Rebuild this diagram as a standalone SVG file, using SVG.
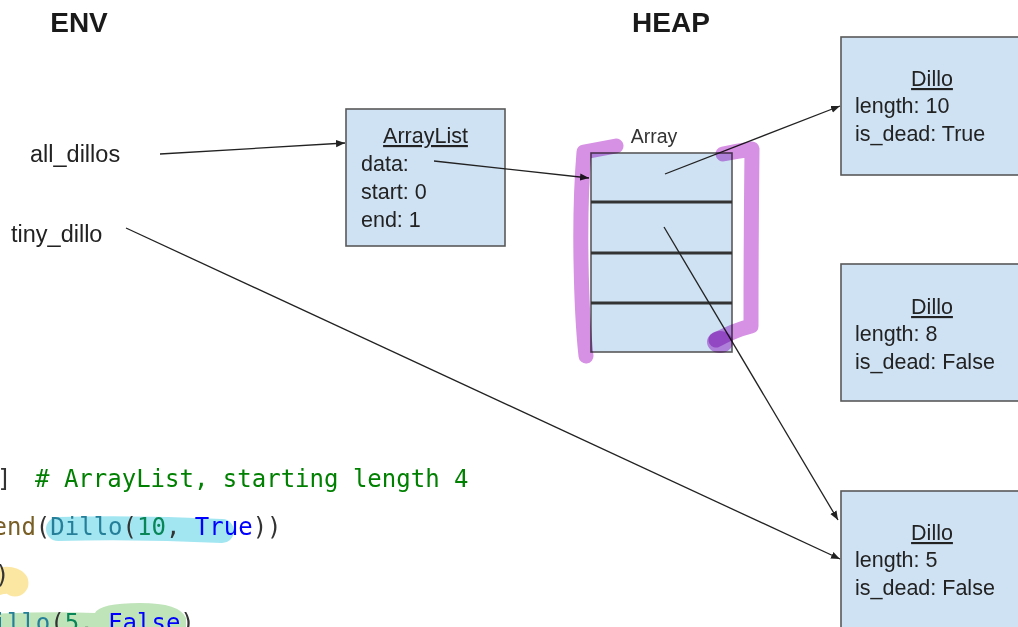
<svg xmlns="http://www.w3.org/2000/svg" width="1018" height="627" viewBox="0 0 1018 627">
  <style>
    .title { font-family: "Liberation Sans", Arial, sans-serif; font-weight: bold; font-size: 28px; fill: #1a1a1a; }
    .var { font-family: "Liberation Sans", Arial, sans-serif; font-size: 23.5px; fill: #222; }
    .box { fill: #cfe2f3; stroke: #595959; stroke-width: 1.6; }
    .lbl { font-family: "Liberation Sans", Arial, sans-serif; font-size: 21.5px; fill: #222; }
    .head { text-decoration: underline; }
    .divider { stroke: #333; stroke-width: 3; }
    .edge { stroke: #222; stroke-width: 1.3; fill: none; marker-end: url(#tip); }
    .marker { fill: none; stroke: #d690e4; stroke-width: 15; stroke-linecap: round; stroke-linejoin: round; mix-blend-mode: multiply; }
    .code { font-family: "DejaVu Sans Mono", "Liberation Mono", monospace; font-size: 24px; fill: #333; white-space: pre; }
    .cm { fill: #008000; }
    .fn { fill: #795e26; }
    .cls { fill: #267f99; }
    .num { fill: #098658; }
    .kw { fill: #0000ff; }
  </style>
  <defs>
    <marker id="tip" viewBox="0 0 10 10" refX="10" refY="5" markerWidth="9" markerHeight="9" markerUnits="userSpaceOnUse" orient="auto">
      <path d="M0,1 L10,5 L0,9 z" fill="#222"/>
    </marker>
  </defs>

  <rect width="1018" height="627" fill="#ffffff"/>

  <!-- section titles -->
  <text class="title" x="79" y="32" text-anchor="middle">ENV</text>
  <text class="title" x="671" y="32" text-anchor="middle">HEAP</text>

  <!-- environment variables -->
  <g id="var-all_dillos">
    <text class="var" x="30" y="162">all_dillos</text>
  </g>
  <g id="var-tiny_dillo">
    <text class="var" x="11" y="242">tiny_dillo</text>
  </g>

  <!-- ArrayList object -->
  <g id="arraylist">
    <rect class="box" x="346" y="109" width="159" height="137"/>
    <text class="lbl head" x="425.5" y="143" text-anchor="middle">ArrayList</text>
    <text class="lbl" x="361" y="171">data:</text>
    <text class="lbl" x="361" y="199">start: 0</text>
    <text class="lbl" x="361" y="227">end: 1</text>
  </g>

  <!-- backing array with four slots -->
  <g id="array">
    <text class="lbl" x="654" y="143" text-anchor="middle" style="font-size:19.5px;fill:#333">Array</text>
    <rect class="box" x="591" y="153" width="141" height="199"/>
    <line class="divider" x1="591" y1="202" x2="732" y2="202"/>
    <line class="divider" x1="591" y1="253" x2="732" y2="253"/>
    <line class="divider" x1="591" y1="303" x2="732" y2="303"/>
  </g>

  <!-- Dillo objects -->
  <g id="dillo-10">
    <rect class="box" x="841" y="37" width="200" height="138"/>
    <text class="lbl head" x="932" y="86" text-anchor="middle">Dillo</text>
    <text class="lbl" x="855" y="113">length: 10</text>
    <text class="lbl" x="855" y="141">is_dead: True</text>
  </g>
  <g id="dillo-8">
    <rect class="box" x="841" y="264" width="200" height="137"/>
    <text class="lbl head" x="932" y="314" text-anchor="middle">Dillo</text>
    <text class="lbl" x="855" y="341">length: 8</text>
    <text class="lbl" x="855" y="369">is_dead: False</text>
  </g>
  <g id="dillo-5">
    <rect class="box" x="841" y="491" width="200" height="160"/>
    <text class="lbl head" x="932" y="540" text-anchor="middle">Dillo</text>
    <text class="lbl" x="855" y="567">length: 5</text>
    <text class="lbl" x="855" y="595">is_dead: False</text>
  </g>

  <!-- references -->
  <g id="connectors">
    <line class="edge" x1="160" y1="154" x2="345" y2="143"/>
    <line class="edge" x1="434" y1="161" x2="589" y2="178"/>
    <line class="edge" x1="665" y1="174" x2="840" y2="106"/>
    <line class="edge" x1="664" y1="227" x2="838" y2="520"/>
    <line class="edge" x1="126" y1="228" x2="840" y2="559"/>
  </g>

  <!-- hand-drawn bracket around the array -->
  <g id="highlight-array">
    <path class="marker" d="M616,146 Q600,149 584,152 Q580,200 581,260 Q582,320 586,356"/>
    <path class="marker" d="M723,154 Q738,151 752,149 Q751,240 751,326 Q735,330 716,340"/>
    <ellipse cx="720" cy="342" rx="13" ry="11" fill="#d690e4" style="mix-blend-mode:multiply"/>
  </g>

  <!-- code fragment -->
  <g id="code">
    <path d="M58,529 Q140,527 222,531" fill="none" stroke="#a2e6f1" stroke-width="24" stroke-linecap="round"/>
    <path d="M-4,582 Q10,578 15,583" fill="none" stroke="#fbe7a1" stroke-width="27" stroke-linecap="round"/>
    <path d="M-10,627 L-10,614 Q50,611 95,613 Q100,603 140,603 Q180,603 186,618 L186,627 Z" fill="#bfe4b9"/>
    <text class="code" x="-3" y="487">]</text>
    <text class="code cm" x="35" y="487"># ArrayList, starting length 4</text>
    <text class="code" x="-7.5" y="535"><tspan class="fn">end</tspan>(<tspan class="cls">Dillo</tspan>(<tspan class="num">10</tspan>, <tspan class="kw">True</tspan>))</text>
    <text class="code" x="-5" y="583">)</text>
    <text class="code" x="-7.5" y="631"><tspan class="cls">illo</tspan>(<tspan class="num">5</tspan>, <tspan class="kw">False</tspan>)</text>
  </g>
</svg>
